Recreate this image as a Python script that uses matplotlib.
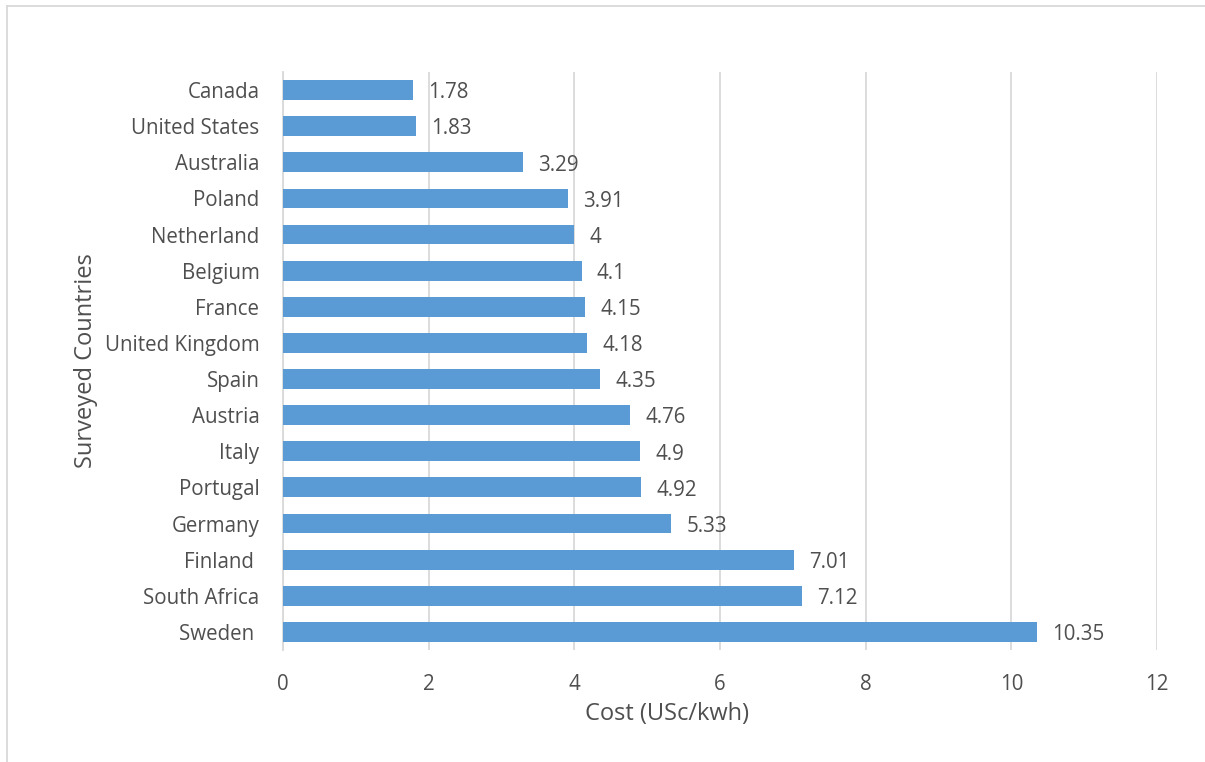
import matplotlib
matplotlib.use("Agg")
import matplotlib.pyplot as plt
from matplotlib.lines import Line2D

countries = ["Canada", "United States", "Australia", "Poland", "Netherland",
             "Belgium", "France", "United Kingdom", "Spain", "Austria", "Italy",
             "Portugal", "Germany", "Finland ", "South Africa", "Sweden "]
costs = [1.78, 1.83, 3.29, 3.91, 4, 4.1, 4.15, 4.18, 4.35, 4.76, 4.9,
         4.92, 5.33, 7.01, 7.12, 10.35]
x_ticks = [0, 2, 4, 6, 8, 10, 12]

text_color = "#4F4F4F"
bar_color = "#5B9BD5"
grid_color = "#D9D9D9"
fs = 14.8
title_fs = 17

plt.rcParams["font.family"] = ["Open Sans", "DejaVu Sans"]

fig = plt.figure(figsize=(12.05, 7.62), dpi=100)
ax = fig.add_axes([0.2349, 0.147, 0.7253, 0.7585])

pos = list(range(len(countries)))
ax.barh(pos, costs, height=0.55, color=bar_color, zorder=3)
for p, v in zip(pos, costs):
    ax.annotate(f"{v:g}", (v, p), xytext=(11, -2), textcoords="offset points",
                va="center", ha="left", fontsize=fs, color=text_color)

ax.set_ylim(len(countries) - 0.5, -0.5)
ax.set_xlim(0, 12)
ax.set_xticks(x_ticks)
ax.set_yticks(pos)
ax.set_yticklabels(countries)
ax.tick_params(axis="both", length=0, labelsize=fs, labelcolor=text_color)
ax.tick_params(axis="y", pad=17)
ax.tick_params(axis="x", pad=17)
ax.grid(axis="x", color=grid_color, linewidth=1.3, zorder=0)
for s in ["top", "right", "bottom"]:
    ax.spines[s].set_visible(False)
ax.spines["left"].set_color(grid_color)
ax.spines["left"].set_linewidth(1.3)

ax.set_xlabel("Cost (USc/kwh)", fontsize=title_fs, color=text_color, labelpad=5)
ax.xaxis.label.set_x(0.439)
ax.set_ylabel("Surveyed Countries", fontsize=title_fs, color=text_color, labelpad=5)

# outer chart frame (left and top edges)
fig.add_artist(Line2D([7 / 1205, 7 / 1205], [0, 1 - 6 / 762],
                      transform=fig.transFigure, color=grid_color, linewidth=1.3))
fig.add_artist(Line2D([7 / 1205, 1], [1 - 6 / 762, 1 - 6 / 762],
                      transform=fig.transFigure, color=grid_color, linewidth=1.3))

fig.savefig("out.png", dpi=100)
